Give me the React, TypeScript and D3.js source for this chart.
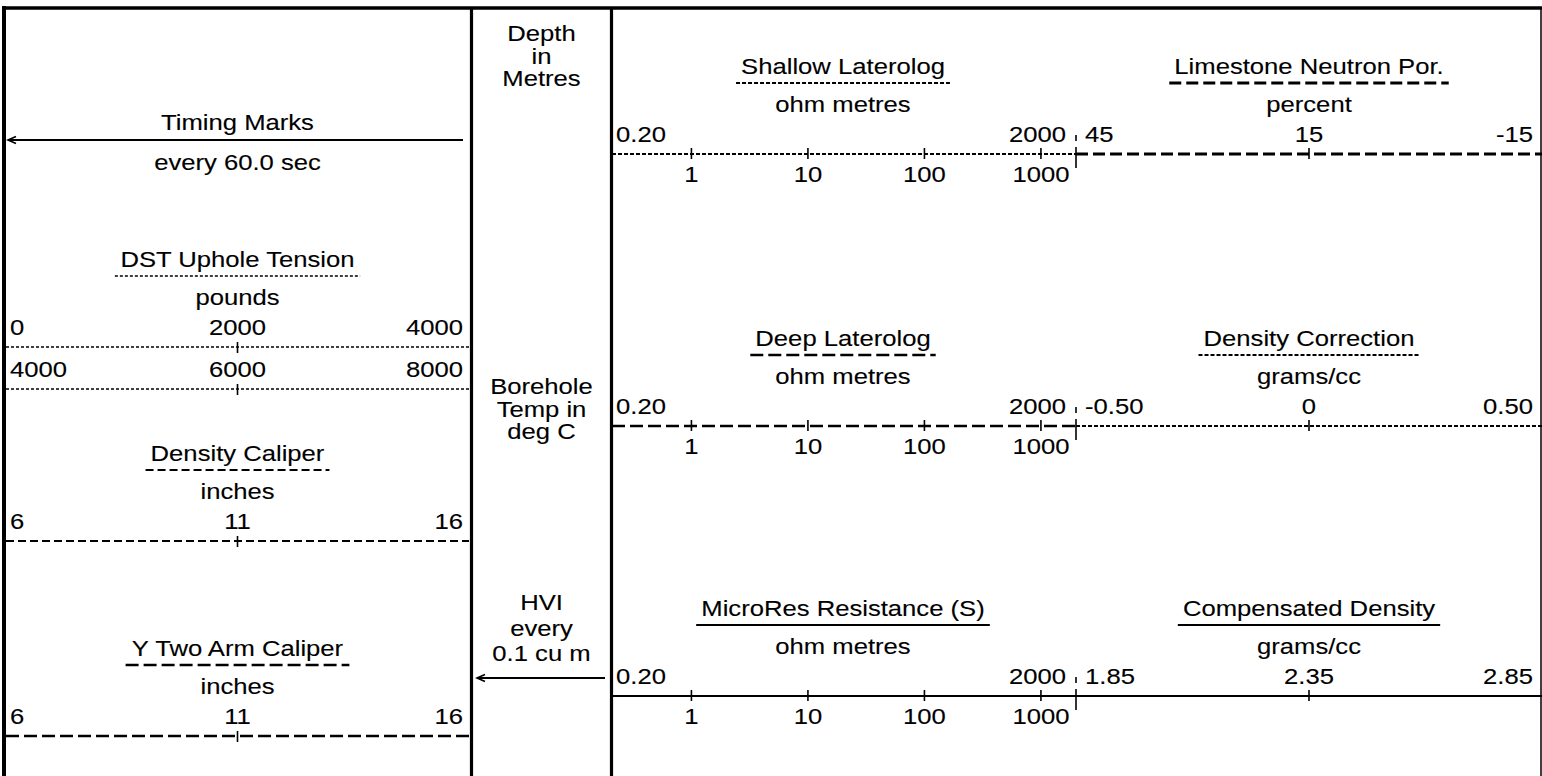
import React from "react";
import * as d3 from "d3";

// ---------- data ----------
const resistivityCurves = ["Shallow Laterolog", "Deep Laterolog", "MicroRes Resistance (S)"];
const resistivityUnits = ["ohm metres", "ohm metres", "ohm metres"];
const resistivityDomain = [0.2, 2000];
const resistivityEndLabels = ["0.20", "2000"];
const resistivityTicks = [1, 10, 100, 1000];

const linearCurves = ["Limestone Neutron Por.", "Density Correction", "Compensated Density"];
const linearUnits = ["percent", "grams/cc", "grams/cc"];
const linearDomains = [[45, -15], [-0.5, 0.5], [1.85, 2.85]];
const linearLabels = [["45", "15", "-15"], ["-0.50", "0", "0.50"], ["1.85", "2.35", "2.85"]];

const leftCurves = ["DST Uphole Tension", "Density Caliper", "Y Two Arm Caliper"];
const leftUnits = ["pounds", "inches", "inches"];
const dstDomains = [[0, 4000], [4000, 8000]];
const dstLabels = [["0", "2000", "4000"], ["4000", "6000", "8000"]];
const caliperDomain = [6, 16];
const caliperLabels = ["6", "11", "16"];

const depthHeader = ["Depth", "in", "Metres"];
const tempHeader = ["Borehole", "Temp in", "deg C"];
const hviHeader = ["HVI", "every", "0.1 cu m"];
const timingText = ["Timing Marks", "every 60.0 sec"];

// ---------- layout ----------
const W = 1542, H = 776;
const FS = 22.5, SX = 1.14;
const FONT = "'Liberation Sans', Arial, sans-serif";
const leftX0 = 6, leftX1 = 469;
const div1 = 471.5, div2 = 611.5;
const logX0 = 610, splitX = 1076, linX1 = 1542;
const rightLineY = [154, 426, 696];

const styles: Record<string, any> = {
  fine: { strokeWidth: 2.2, strokeDasharray: "4 2" },
  thinDot: { strokeWidth: 1.4, strokeDasharray: "3 2" },
  medDash: { strokeWidth: 2.2, strokeDasharray: "8 4" },
  longDash: { strokeWidth: 2.6, strokeDasharray: "13 5" },
  heavyDash: { strokeWidth: 3, strokeDasharray: "12 5" },
  solid: { strokeWidth: 2.2 },
};
const resStyles = ["fine", "longDash", "solid"];
const linStyles = ["heavyDash", "fine", "solid"];
const leftStyles = ["thinDot", "medDash", "longDash"];

let _ctx: CanvasRenderingContext2D | null = null;
function textW(s: string) {
  if (!_ctx) {
    _ctx = document.createElement("canvas").getContext("2d");
  }
  if (!_ctx) return s.length * FS * 0.55 * SX;
  _ctx.font = `${FS}px 'Liberation Sans', Arial, sans-serif`;
  return _ctx.measureText(s).width * SX;
}

function T({ x, y, anchor = "middle", children }: any) {
  return (
    <text
      transform={`translate(${x},${y}) scale(${SX},1)`}
      textAnchor={anchor}
      fontSize={FS}
      fontFamily={FONT}
      fill="#000"
      stroke="#000"
      strokeWidth={0.12}
    >
      {children}
    </text>
  );
}

function Title({ cx, L, name, unit, st }: any) {
  const w = textW(name) + 10;
  return (
    <g>
      <T x={cx} y={L - 80}>{name}</T>
      <line x1={cx - w / 2} x2={cx + w / 2} y1={L - 71} y2={L - 71} stroke="#000" {...styles[st]} />
      <T x={cx} y={L - 42}>{unit}</T>
    </g>
  );
}

const TW = 1.6;

export default function App() {
  const logScale = d3.scaleLog().domain(resistivityDomain).range([logX0, splitX]);
  const leftCx = (leftX0 + leftX1) / 2;
  const logCx = (logX0 + splitX) / 2;
  const linCx = (splitX + linX1) / 2;
  const depthCx = (div1 + div2) / 2;

  const leftLineY = [347, 541, 736];
  const dstSecondY = 389;

  return (
    <svg width={W} height={H} style={{ position: "fixed", left: 0, top: 0, background: "#fff" }}>
      <rect x={0} y={0} width={W} height={H} fill="#fff" />
      {/* frame */}
      <line x1={2} x2={W} y1={8} y2={8} stroke="#000" strokeWidth={3.5} />
      <line x1={4} x2={4} y1={6} y2={H} stroke="#000" strokeWidth={4} />
      <line x1={div1} x2={div1} y1={8} y2={H} stroke="#000" strokeWidth={3.2} />
      <line x1={div2} x2={div2} y1={8} y2={H} stroke="#000" strokeWidth={3.2} />
      <line x1={1541} x2={1541} y1={8} y2={H} stroke="#000" strokeWidth={1.5} />

      {/* depth column */}
      {depthHeader.map((s, i) => <T key={"d" + i} x={depthCx} y={41 + i * 22.5}>{s}</T>)}
      {tempHeader.map((s, i) => <T key={"t" + i} x={depthCx} y={394 + i * 22.5}>{s}</T>)}
      {hviHeader.map((s, i) => <T key={"h" + i} x={depthCx} y={610 + i * 25.5}>{s}</T>)}
      <line x1={477} x2={605} y1={678} y2={678} stroke="#000" strokeWidth={1.8} />
      <polyline points={`485,674.5 477,678 485,681.5`} fill="none" stroke="#000" strokeWidth={1.6} />

      {/* timing marks */}
      <T x={leftCx} y={130}>{timingText[0]}</T>
      <line x1={8} x2={463} y1={140} y2={140} stroke="#000" strokeWidth={1.8} />
      <polyline points={`16,136.5 8,140 16,143.5`} fill="none" stroke="#000" strokeWidth={1.6} />
      <T x={leftCx} y={170}>{timingText[1]}</T>

      {/* left track */}
      {leftCurves.map((name, i) => {
        const L = leftLineY[i];
        return <Title key={"lt" + i} cx={leftCx} L={L} name={name} unit={leftUnits[i]} st={leftStyles[i]} />;
      })}
      {dstDomains.map((dom, r) => {
        const sc = d3.scaleLinear().domain(dom).range([leftX0, leftX1]);
        const L = r === 0 ? leftLineY[0] : dstSecondY;
        const mid = (dom[0] + dom[1]) / 2;
        return (
          <g key={"dst" + r}>
            <T x={sc(dom[0]) + 4} y={L - 12} anchor="start">{dstLabels[r][0]}</T>
            <T x={sc(mid)} y={L - 12}>{dstLabels[r][1]}</T>
            <T x={sc(dom[1]) - 6} y={L - 12} anchor="end">{dstLabels[r][2]}</T>
            <line x1={leftX0} x2={leftX1} y1={L} y2={L} stroke="#000" {...styles.thinDot} />
            <line x1={sc(mid)} x2={sc(mid)} y1={L - 5} y2={L + 6} stroke="#000" strokeWidth={TW} />
          </g>
        );
      })}
      {[1, 2].map((i) => {
        const sc = d3.scaleLinear().domain(caliperDomain).range([leftX0, leftX1]);
        const L = leftLineY[i];
        const mid = (caliperDomain[0] + caliperDomain[1]) / 2;
        return (
          <g key={"cal" + i}>
            <T x={sc(caliperDomain[0]) + 4} y={L - 12} anchor="start">{caliperLabels[0]}</T>
            <T x={sc(mid)} y={L - 12}>{caliperLabels[1]}</T>
            <T x={sc(caliperDomain[1]) - 6} y={L - 12} anchor="end">{caliperLabels[2]}</T>
            <line x1={leftX0} x2={leftX1} y1={L} y2={L} stroke="#000" {...styles[leftStyles[i]]} />
            <line x1={sc(mid)} x2={sc(mid)} y1={L - 5} y2={L + 6} stroke="#000" strokeWidth={TW} />
          </g>
        );
      })}

      {/* right tracks */}
      {rightLineY.map((L, i) => {
        const lin = d3.scaleLinear().domain(linearDomains[i]).range([splitX, linX1]);
        const dom = linearDomains[i];
        const mid = (dom[0] + dom[1]) / 2;
        return (
          <g key={"r" + i}>
            <Title cx={logCx} L={L} name={resistivityCurves[i]} unit={resistivityUnits[i]} st={resStyles[i]} />
            <Title cx={linCx} L={L} name={linearCurves[i]} unit={linearUnits[i]} st={linStyles[i]} />
            <T x={logScale(resistivityDomain[0]) + 6} y={L - 12} anchor="start">{resistivityEndLabels[0]}</T>
            <T x={logScale(resistivityDomain[1]) - 10} y={L - 12} anchor="end">{resistivityEndLabels[1]}</T>
            <line x1={logX0 + 2} x2={splitX} y1={L} y2={L} stroke="#000" {...styles[resStyles[i]]} />
            {resistivityTicks.map((t) => (
              <g key={t}>
                <line x1={logScale(t)} x2={logScale(t)} y1={L - 6} y2={L + 5} stroke="#000" strokeWidth={TW} />
                <T x={logScale(t)} y={L + 28}>{d3.format("d")(t)}</T>
              </g>
            ))}
            <line x1={splitX} x2={splitX} y1={L - 19} y2={L - 13} stroke="#000" strokeWidth={TW} />
            <line x1={splitX} x2={splitX} y1={L - 7} y2={L + 14} stroke="#000" strokeWidth={TW} />
            <line x1={splitX} x2={linX1} y1={L} y2={L} stroke="#000" {...styles[linStyles[i]]} />
            <T x={lin(dom[0]) + 9} y={L - 12} anchor="start">{linearLabels[i][0]}</T>
            <T x={lin(mid)} y={L - 12}>{linearLabels[i][1]}</T>
            <T x={lin(dom[1]) - 9} y={L - 12} anchor="end">{linearLabels[i][2]}</T>
            <line x1={lin(mid)} x2={lin(mid)} y1={L - 6} y2={L + 5} stroke="#000" strokeWidth={TW} />
          </g>
        );
      })}
    </svg>
  );
}
